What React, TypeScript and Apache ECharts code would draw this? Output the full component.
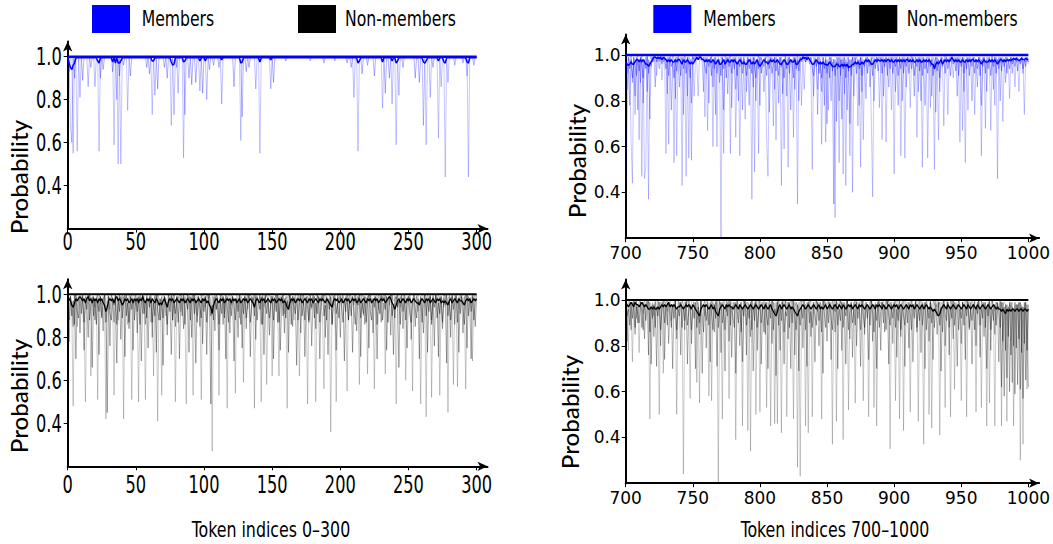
import React, { useEffect, useRef } from "react";
import * as echarts from "echarts";

// ---------- axis / tick values ----------
const X_TICKS_LEFT = [0, 50, 100, 150, 200, 250, 300];
const X_TICKS_RIGHT = [700, 750, 800, 850, 900, 950, 1000];
const Y_TICKS = [0.4, 0.6, 0.8, 1.0];
const X_START_LEFT = 0;
const X_START_RIGHT = 700;
const N_TOKENS = 301;

// ---------- Top-left: members, tokens 0-300 (sparse dips from 100%) ----------
const TL_BASE = 100;
const TL_MEAN_BASE = 99.5;
const TL_A = [[4,55],[7,56],[23,56],[34,59],[37,50],[39,50],[44,75],[62,73],[76,68],[85,53],[127,61],[141,55],[213,56],[231,76],[241,59],[263,59],[272,62],[277,44],[294,44]];
const TL_B = [[2,68],[3,60],[9,81],[15,86],[20,86],[36,80],[64,82],[78,73],[81,83],[86,73],[97,84],[102,80],[113,78],[128,72],[138,85],[149,85],[210,81],[238,78],[243,82],[261,68],[266,81],[274,86],[279,88],[293,91]];
const TL_C = [[1,93],[5,90],[11,89],[17,95],[24,90],[26,94],[33,93],[38,91],[41,96],[46,91],[58,95],[60,92],[66,85],[71,95],[73,90],[80,95],[89,90],[91,87],[94,88],[99,83],[104,94],[107,96],[111,95],[122,86],[131,93],[133,95],[151,88],[160,98],[178,98],[188,97],[196,98],[205,97],[208,95],[216,92],[220,96],[225,91],[233,83],[236,90],[246,95],[255,90],[258,88],[268,95],[284,96],[290,97],[298,96]];
const TL_MEAN = [[1,97],[2,95],[3,94],[4,96],[5,97],[22,98],[23,97],[33,97.5],[35,97],[37,97],[38,97],[39,98],[62,98],[63,98],[76,97.5],[77,96],[78,96.5],[85,97.5],[86,98],[97,98],[101,98],[113,98.5],[127,97],[128,97.5],[141,97.5],[149,98.5],[213,97],[214,98],[231,97.5],[238,98],[241,97],[242,98],[261,97.5],[262,97],[263,98],[272,98],[276,97.5],[277,97],[293,97.5],[294,97]];

// ---------- Top-right: members, tokens 700-1000 (percent per token) ----------
const TR_A = [44,69,99,98,62,44,99,74,98,100,63,99,47,98,46,51,99,37,98,100,99,97,98,91,100,97,99,89,98,100,57,99,61,100,98,97,53,99,56,100,98,97,43,99,98,47,99,55,98,54,99,82,98,97,82,99,100,98,97,73,99,67,98,97,99,60,98,97,60,99,98,20,99,57,100,98,97,99,57,98,99,97,64,98,99,56,98,97,99,72,98,99,97,98,37,99,49,98,97,57,99,98,97,98,99,63,47,99,98,97,69,99,63,98,97,99,43,98,59,99,98,51,99,97,98,64,99,97,35,99,98,78,99,85,98,97,99,98,93,50,99,98,97,85,99,98,61,99,97,62,98,76,99,97,98,98,29,99,97,53,99,98,48,97,43,99,97,56,98,40,99,98,97,69,98,51,99,63,98,97,99,98,97,72,38,99,98,97,99,77,98,63,99,97,62,98,99,97,76,99,48,99,98,97,99,56,98,99,55,97,99,98,77,99,97,98,99,64,98,97,99,51,98,97,99,55,98,77,99,97,50,99,98,63,97,99,98,69,99,98,74,99,97,98,90,99,98,97,99,62,98,67,99,53,98,76,99,97,98,99,74,98,97,99,98,56,99,97,68,99,98,97,67,99,98,78,99,46,98,97,99,71,98,97,99,98,81,99,97,98,86,99,97,84,98,99,97,74,99,98,97];
const TR_B = [99,85,96,78,100,88,97,82,99,76,98,88,100,79,97,99,84,98,72,99,97,100,86,99,98,94,99,100,97,99,98,83,99,97,76,100,98,81,99,97,86,99,98,74,100,97,82,99,98,79,100,97,99,98,100,99,98,97,84,99,97,99,79,98,100,86,99,74,98,97,88,99,98,76,97,99,83,98,100,77,98,99,85,97,80,99,98,76,99,97,84,98,78,99,97,86,99,80,98,100,78,99,97,84,98,99,100,75,97,99,98,85,99,97,79,98,99,83,97,100,82,98,99,76,97,99,85,98,100,80,99,97,100,98,97,99,98,96,99,97,82,99,97,74,99,98,84,97,78,99,70,98,99,80,97,35,98,71,99,80,98,72,99,83,98,76,99,70,97,99,82,97,99,98,78,99,84,98,97,81,99,97,86,98,99,80,97,99,98,99,97,99,82,98,99,97,86,99,98,97,99,84,97,78,99,98,80,97,99,86,97,99,98,100,97,82,99,98,84,99,80,99,97,78,98,99,97,98,82,99,98,75,99,97,84,98,99,97,100,99,98,97,99,100,98,97,99,82,97,99,98,99,84,97,99,98,97,99,80,98,99,97,86,98,99,78,98,99,97,84,99,98,97,100,85,99,98,97,99,80,98,99,97,88,99,98,97,99,92,99,98,97,99,98,97,99,92,98,97,99,96];
const TR_C = [97,92,99,94,98,90,99,95,91,98,93,99,96,90,98,94,100,92,97,95,99,98,100,97,99,98,100,96,99,98,94,98,91,99,95,97,90,98,93,99,96,91,99,94,98,92,99,96,90,98,99,98,100,99,98,100,99,98,99,95,92,98,95,99,91,97,94,99,92,98,96,91,99,94,98,90,99,95,98,92,98,94,99,91,97,95,99,92,98,96,91,99,94,98,92,99,95,90,98,94,99,92,97,95,99,91,98,94,99,92,96,99,93,98,91,99,95,97,90,98,94,99,92,98,96,90,99,94,98,93,99,98,100,99,97,100,99,98,99,94,91,98,95,99,92,97,90,99,94,98,92,97,90,99,93,98,91,97,94,99,91,98,94,99,90,97,93,98,91,99,95,99,92,98,94,99,91,97,95,99,92,98,95,99,91,98,94,99,93,97,99,92,98,95,99,91,98,94,99,92,97,95,99,91,98,94,99,92,98,95,99,92,98,94,99,91,97,95,99,93,98,91,99,94,97,92,99,95,98,91,96,99,93,98,90,99,95,98,92,99,94,98,91,99,96,98,93,99,91,98,95,99,92,98,94,99,91,98,95,99,92,98,94,99,91,98,95,99,92,98,94,99,91,98,95,99,92,98,94,99,93,98,95,99,92,98,94,99,96,98,95,99,93,98,96,99,94,98,95,99,97];
const TR_MEAN = [97,96,95.5,96,97,96,96,97,98,98,97,98,97,98,97,96,96,95,96,97,98,99,99,98.5,99,98.5,99,98,99,98.5,98,97,98,97,98,97,97,98,97,98,98,97,96,98,97,97,98,97,96,97,96,97,98,99,98,99,99,98,98,97,98,97,98,97,97,98,97,96,97,98,96,96,97,98,96,97,98,97,97,98,97,98,97,96,97,98,97,96,97,96,96,97,98,97,96,97,96,97,98,96,95,96,97,98,97,97,96,97,98,97,98,97,97,98,97,96,96,97,98,97,96,96,97,98,97,97,98,96,96,97,98,98,99,98.5,99,98,99,98,97,96,96,97,98,97,96,97,96,97,96,96,95.5,96,97,96,95,95,95,96,96,95,95,96,95,96,95,96,94.5,95,95,96,96,97,96,97,96,96,97,96,97,98,97,98,97,96,96,97,98,97,98,97.5,97.5,98,97,98,97,98,98,97,98,97,97,98,97,98,97,98,97,98,97,98,98,97,98,97,98,97,97,98,97,98,97,97,98,97,98,97,98,97,96,96,94,96,97,96,97,98,96,97,98,97,98,97,98,99,98,97,98,97,98,97,97,98,97,97,98,97,98,97,98,98,97,98,97,98,97,96,97,98,97,97,97,98,97,98,97,98,97,96,97,98,98,97,98,97,98,97.5,98,97.5,98,98.5,98,98.5,98,97.5,98,98.5,98,98,98.5,98,98];

// ---------- Bottom-left: non-members, tokens 0-300 ----------
const BL_A = [100,97,99,92,48,99,100,85,98,100,99,96,88,50,99,98,100,62,97,99,94,99,51,100,98,90,99,97,42,99,100,93,99,98,53,100,97,88,99,96,100,42,98,99,86,100,97,51,99,100,95,99,50,100,98,91,99,51,100,97,99,87,98,62,100,99,41,98,97,53,100,99,90,98,100,96,99,88,100,50,99,97,100,92,99,98,94,49,100,99,96,99,53,100,98,90,99,97,51,100,99,94,100,98,99,97,27,99,100,93,99,53,100,97,99,91,98,47,100,99,95,99,98,54,100,97,89,99,98,59,100,99,93,98,100,96,99,47,100,98,97,99,50,100,94,99,58,98,100,97,62,99,98,100,95,62,99,97,100,91,99,47,100,98,96,99,88,100,97,99,62,98,100,95,99,97,49,100,99,93,98,99,50,100,96,99,97,89,56,100,99,97,98,36,100,99,94,50,99,98,100,96,99,98,92,55,100,99,97,99,95,100,98,99,58,100,97,90,99,98,63,100,99,96,98,56,100,99,93,98,99,97,100,63,99,98,95,100,99,97,98,49,100,99,94,98,97,100,60,99,97,99,96,55,100,98,99,92,97,49,100,99,97,43,100,98,99,52,100,96,99,98,100,53,99,97,94,100,99,45,100,98,99,58,100,97,57,99,98,100,96,99,56,100,98,97,99,69,100,99,100];
const BL_B = [100,78,99,96,85,100,70,98,99,82,97,100,74,99,96,80,100,98,66,99,88,97,100,72,99,95,83,100,97,45,99,76,100,98,87,99,68,97,100,79,98,99,71,100,96,84,99,100,74,97,100,82,98,99,69,100,97,86,99,75,99,100,80,97,99,73,100,98,88,99,67,99,98,81,100,97,72,99,100,85,97,99,70,100,98,84,99,96,100,73,99,80,97,100,68,99,98,85,100,77,98,99,72,100,96,49,99,98,83,100,97,74,99,100,86,98,70,99,97,82,100,99,69,97,98,80,100,99,75,97,99,84,100,98,71,99,97,100,79,99,96,100,86,99,72,98,100,97,81,99,99,70,98,100,87,99,74,97,100,82,98,99,73,100,97,85,99,98,67,100,99,82,97,100,71,98,99,88,100,76,97,99,84,100,98,70,99,97,100,80,99,72,100,98,86,99,97,74,100,99,80,98,100,69,99,97,88,100,99,73,98,100,83,99,97,71,100,99,86,98,99,75,100,97,82,99,98,70,100,99,87,99,97,100,74,98,99,81,100,72,99,98,100,66,99,97,84,100,98,75,99,100,79,98,97,85,99,100,70,98,97,82,100,99,73,98,100,88,99,76,100,98,71,99,97,84,100,99,68,98,99,80,100,97,86,99,98,73,100,99,82,98,100,75,99,97,70,100,99,85,98];
const BL_C = [96,88,99,90,97,86,100,92,89,98,91,99,87,97,93,100,88,95,99,90,98,86,97,92,99,89,96,100,87,94,99,91,88,98,95,100,86,97,92,99,89,97,100,90,96,87,99,93,98,88,97,92,99,86,95,100,91,97,89,98,94,99,87,96,90,100,93,88,98,95,89,99,96,86,98,92,100,88,97,91,99,87,95,98,90,100,86,97,93,99,88,96,100,91,97,87,99,94,89,98,92,99,87,96,100,90,95,88,99,93,98,86,97,91,99,89,100,94,87,97,90,99,95,88,98,92,100,86,97,91,99,89,96,100,87,95,98,90,99,88,97,93,99,86,96,100,91,98,89,95,99,88,97,92,100,87,96,99,90,98,89,97,93,100,86,99,95,91,98,88,96,100,90,97,88,99,93,87,98,94,100,89,96,91,99,87,97,100,90,95,88,98,93,99,86,97,100,91,96,89,99,94,87,98,92,100,88,97,90,99,93,86,98,95,100,89,96,91,99,87,97,100,92,88,98,94,99,86,97,91,100,88,96,93,99,87,98,100,90,95,89,99,94,97,86,100,92,98,88,96,99,91,87,97,100,93,89,98,95,99,87,96,100,90,98,92,99,86,97,94,100,89,96,91,99,87,98,95,100,90,97,88,99,93,96,100,87,98,91,99,94,86,97,100,90,98,92,99,88,96,100];
const BL_MEAN = [99,98,97,95,94,96,98,97,98,99,98,97,98,96,98,99,97,98,96,98,97,98,96,98,97,98,96,95,92,94,97,98,97,98,96,98,99,97,98,97,95,96,98,97,98,96,97,98,96,98,97,98,96,98,97,99,97,96,98,97,98,96,98,97,96,98,97,95,96,95,97,98,96,94,97,98,97,98,96,97,98,97,96,98,97,98,96,97,98,97,96,98,97,98,96,97,98,97,96,98,97,98,96,97,95,94,91,95,97,98,97,96,98,97,98,96,97,98,97,98,96,98,97,98,96,97,98,96,97,98,97,98,96,97,98,97,96,94,97,98,97,96,98,97,98,96,97,98,97,96,98,97,98,96,97,98,97,98,96,97,96,94,93,96,98,97,98,96,97,98,97,98,96,97,98,97,96,98,97,98,96,97,98,97,96,98,97,98,97,96,98,97,96,95,94,97,98,97,98,96,97,98,96,97,98,97,98,96,97,98,97,98,96,97,98,96,97,98,97,96,98,97,98,96,97,98,97,98,96,97,98,97,98,96,97,98,99,98,96,95,93,95,97,98,96,97,98,97,96,98,97,98,96,97,98,97,96,96,95,97,98,97,96,98,97,98,96,97,98,97,96,98,97,98,96,97,96,97,96,95,97,98,96,97,98,97,96,98,97,97,96,95,97,98,97,98,96,97,98,97,98];

// ---------- Bottom-right: non-members, tokens 700-1000 ----------
const BR_A = [100,96,78,99,97,73,99,100,92,98,77,99,98,94,100,97,99,99,48,97,99,93,100,98,96,50,99,97,68,100,98,95,99,100,91,98,97,99,50,100,97,99,94,24,99,98,100,96,57,99,100,98,97,64,99,55,100,97,98,93,99,100,58,98,56,99,97,100,98,20,99,97,48,100,98,95,99,57,100,98,97,99,39,100,96,98,99,45,100,98,99,43,98,34,100,97,99,50,98,100,51,99,97,100,98,53,99,97,45,100,98,46,99,46,100,97,42,99,98,100,49,99,97,100,98,48,99,97,27,99,23,98,100,97,45,99,42,98,100,49,99,97,100,95,99,98,48,100,97,99,98,100,96,99,37,98,100,47,99,97,100,98,39,99,97,100,52,98,99,96,99,55,100,98,97,99,100,56,98,99,97,49,99,100,98,53,99,45,100,98,99,97,100,96,99,98,100,35,99,97,98,56,100,99,48,97,99,43,100,98,99,97,51,100,98,96,99,100,47,98,100,97,37,99,98,96,50,99,44,100,98,99,97,100,41,99,98,97,53,100,99,97,49,100,98,61,99,97,100,98,56,99,97,100,49,98,99,96,100,97,99,51,98,100,97,53,99,98,96,45,99,55,98,100,97,45,99,98,96,99,45,97,99,98,47,96,98,97,99,45,97,98,96,99,30,98,37,97,99,61,96];
const BR_B = [98,82,99,100,87,99,97,85,100,90,99,100,88,99,83,98,100,76,99,72,98,84,99,71,100,97,80,99,98,74,99,100,81,97,98,70,99,100,83,97,99,76,100,98,87,99,72,100,97,81,98,99,70,100,97,85,99,68,98,100,79,99,97,73,100,98,86,99,71,97,100,77,99,98,69,100,97,82,99,75,99,98,68,100,97,80,99,73,100,98,76,99,97,84,100,69,98,99,78,97,100,72,99,98,85,99,70,100,97,81,99,98,67,100,97,78,99,98,72,100,97,83,99,70,100,98,76,99,97,69,99,100,79,97,98,71,99,100,84,97,99,73,100,98,80,99,97,68,100,98,82,99,97,74,100,98,86,99,70,97,100,78,99,98,72,100,97,83,99,75,98,100,80,97,99,71,98,100,85,99,97,74,99,100,82,98,97,70,99,100,78,99,97,86,100,98,72,99,97,81,99,100,75,98,97,84,99,100,71,97,98,79,99,100,73,97,99,86,98,100,77,99,98,70,100,97,82,99,98,74,99,100,85,97,99,69,98,100,80,97,99,76,100,98,83,99,97,71,100,98,81,99,97,74,100,98,87,99,72,97,100,80,99,98,75,100,97,84,99,70,98,99,78,100,97,85,99,98,73,100,62,99,58,98,66,97,60,99,64,96,59,98,63,99,61,97,57,99,65,98,62];
const BR_C = [99,93,96,89,98,92,100,88,97,94,90,99,95,87,98,91,97,100,86,96,92,98,88,97,93,99,87,96,100,90,97,89,99,94,88,98,92,100,87,96,93,99,88,97,91,100,89,95,98,87,96,92,99,88,97,90,100,93,86,98,91,97,89,99,94,87,98,92,100,88,95,99,90,96,87,98,93,100,89,97,92,88,99,95,90,98,86,97,93,100,89,96,92,99,87,97,91,100,88,95,98,90,97,86,99,93,89,98,92,100,87,96,94,99,89,97,91,100,86,95,93,99,88,97,90,100,92,87,98,94,89,97,92,100,87,96,99,90,95,88,98,93,89,99,91,97,86,100,94,88,97,90,99,92,87,98,95,100,89,96,91,99,88,97,93,100,87,95,98,90,96,89,99,92,97,87,100,93,88,98,92,97,89,100,94,86,98,91,99,88,95,99,90,97,87,100,93,89,98,92,99,88,96,91,100,87,97,93,89,98,90,99,94,87,97,92,100,88,96,91,98,89,95,99,87,97,92,100,90,96,88,98,93,99,89,97,86,100,94,91,99,88,97,92,100,89,95,98,87,96,92,99,89,97,93,100,88,96,91,98,87,97,94,100,89,96,92,99,88,97,93,100,87,96,91,98,89,99,94,88,99,82,97,78,98,84,99,76,97,80,99,79,98,83,99,77,97,81,99,78,98];
const BR_MEAN = [99,98,97,98,99,98,97,99,98,98,97,98,99,98,97,98,97,96,96,97,96,97,96,96,97,96,97,98,97,98,97,98,99,97,98,97,98,97,96,97,97,98,97,96,97,98,97,98,97,96,98,97,96,95,94,93,96,97,98,97,98,97,96,97,98,96,97,95,94,93,96,97,98,97,96,98,97,98,97,97,96,97,98,97,96,98,97,96,97,98,97,96,97,98,97,96,97,98,97,96,97,98,97,96,98,97,96,97,98,96,95,94,93,95,97,98,96,97,98,97,96,97,98,96,97,96,95,94,93,95,96,97,98,97,96,97,98,97,96,97,98,97,96,97,98,96,97,96,97,98,96,97,98,97,96,97,98,97,96,98,97,96,98,97,96,97,98,97,98,96,97,98,97,96,98,97,98,97,96,97,98,97,96,97,98,97,96,98,97,98,97,96,98,97,96,97,98,97,96,97,98,97,98,96,97,98,97,96,97,98,97,96,98,97,98,96,97,98,97,96,97,98,96,97,98,97,96,97,96,95,96,95,94,93,94,96,97,98,97,96,98,97,96,97,98,97,96,97,98,97,96,97,98,97,96,98,97,96,97,98,97,96,98,97,96,97,98,97,96,97,98,97,96,97,98,97,96,97,96,96,95,96,95,94,96,95,96,95,96,96,95,96,96,95,96,96,95,96,96,95,96];

// ---------- styling ----------
const CONDENSED = "'DejaVu Sans Condensed', 'DejaVu Sans', sans-serif";
const DEJAVU = "'DejaVu Sans', sans-serif";
const BLUE = "#0000ff";

function dense(arr: number[], x0: number) {
  return arr.map((v, i) => [x0 + i, v / 100]);
}
function sparse(dips: number[][], x0: number, base: number) {
  const out: number[][] = [];
  for (let i = 0; i < N_TOKENS; i++) out.push([x0 + i, base / 100]);
  dips.forEach(([i, v]) => {
    out[i][1] = v / 100;
  });
  return out;
}

export default function App() {
  const ref = useRef<HTMLDivElement>(null);
  useEffect(() => {
    if (!ref.current) return;
    const chart = echarts.init(ref.current, undefined, { renderer: "svg" });

    const grids = [
      { left: 67.7, top: 41.6, width: 419.8, height: 187 },
      { left: 625.7, top: 34.4, width: 414, height: 203.8 },
      { left: 67.7, top: 279.3, width: 419.8, height: 187 },
      { left: 625.7, top: 279.4, width: 414, height: 203.8 },
    ];
    const isLeft = [true, false, true, false];

    const xAxis = grids.map((_, i) => {
      const left = isLeft[i];
      const ticks = left ? X_TICKS_LEFT : X_TICKS_RIGHT;
      const x0 = left ? X_START_LEFT : X_START_RIGHT;
      return {
        type: "value",
        gridIndex: i,
        min: x0,
        max: x0 + 308,
        axisLine: {
          show: true,
          symbol: ["none", "arrow"],
          symbolSize: [7, 10],
          lineStyle: { color: "#000", width: 2 },
        },
        axisTick: { show: true, customValues: ticks, length: 4, lineStyle: { color: "#000", width: 1 } },
        axisLabel: {
          show: !left,
          customValues: ticks,
          formatter: (v: number) => String(v),
          color: "#000",
          fontSize: 17,
          fontFamily: DEJAVU,
          margin: 6,
        },
        splitLine: { show: false },
      };
    });
    const yAxis = grids.map((_, i) => {
      const left = isLeft[i];
      return {
        type: "value",
        gridIndex: i,
        min: 0.2,
        max: left ? 1.07 : 1.09,
        axisLine: {
          show: true,
          symbol: ["none", "arrow"],
          symbolSize: [7, 10],
          lineStyle: { color: "#000", width: 2 },
        },
        axisTick: { show: true, customValues: Y_TICKS, length: 4, lineStyle: { color: "#000", width: 1 } },
        axisLabel: {
          show: !left,
          customValues: Y_TICKS,
          formatter: (v: number) => v.toFixed(1),
          color: "#000",
          fontSize: 17,
          fontFamily: DEJAVU,
          margin: 5,
        },
        splitLine: { show: false },
      };
    });

    const line = (
      name: string,
      idx: number,
      data: number[][],
      color: string,
      width: number,
      z: number
    ) => ({
      name,
      type: "line",
      xAxisIndex: idx,
      yAxisIndex: idx,
      data,
      showSymbol: false,
      symbol: "none",
      silent: true,
      z,
      lineStyle: { color, width },
    });

    const flat = (x0: number) => [
      [x0, 1],
      [x0 + N_TOKENS - 1, 1],
    ];

    const series = [
      line("Members", 0, sparse(TL_A, X_START_LEFT, TL_BASE), "rgba(0,0,255,0.22)", 1, 2),
      line("Members", 0, sparse(TL_B, X_START_LEFT, TL_BASE), "rgba(0,0,255,0.25)", 1, 2),
      line("Members", 0, sparse(TL_C, X_START_LEFT, TL_BASE), "rgba(0,0,255,0.3)", 1, 2),
      line("Members", 0, sparse(TL_MEAN, X_START_LEFT, TL_MEAN_BASE), BLUE, 1.5, 3),
      line("Members", 0, flat(X_START_LEFT), BLUE, 2.5, 4),
      line("Members", 1, dense(TR_A, X_START_RIGHT), "rgba(0,0,255,0.22)", 1, 2),
      line("Members", 1, dense(TR_B, X_START_RIGHT), "rgba(0,0,255,0.27)", 1, 2),
      line("Members", 1, dense(TR_C, X_START_RIGHT), "rgba(0,0,255,0.35)", 1, 2),
      line("Members", 1, dense(TR_MEAN, X_START_RIGHT), BLUE, 1.5, 3),
      line("Members", 1, flat(X_START_RIGHT), BLUE, 2.5, 4),
      line("Non-members", 2, dense(BL_A, X_START_LEFT), "rgba(0,0,0,0.2)", 1, 2),
      line("Non-members", 2, dense(BL_B, X_START_LEFT), "rgba(0,0,0,0.32)", 1, 2),
      line("Non-members", 2, dense(BL_C, X_START_LEFT), "rgba(0,0,0,0.38)", 1, 2),
      line("Non-members", 2, dense(BL_MEAN, X_START_LEFT), "#000", 1.3, 3),
      line("Non-members", 2, flat(X_START_LEFT), "#000", 2, 4),
      line("Non-members", 3, dense(BR_A, X_START_RIGHT), "rgba(0,0,0,0.2)", 1, 2),
      line("Non-members", 3, dense(BR_B, X_START_RIGHT), "rgba(0,0,0,0.3)", 1, 2),
      line("Non-members", 3, dense(BR_C, X_START_RIGHT), "rgba(0,0,0,0.35)", 1, 2),
      line("Non-members", 3, dense(BR_MEAN, X_START_RIGHT), "#000", 1.3, 3),
      line("Non-members", 3, flat(X_START_RIGHT), "#000", 2, 4),
    ];

    chart.setOption({
      animation: false,
      backgroundColor: "#fff",
      grid: grids.map((g) => ({ ...g, containLabel: false })),
      xAxis,
      yAxis,
      series,
    });

    // ---------- texts ----------
    const narrowText = (
      x: number,
      y: number,
      text: string,
      size: number,
      sx: number,
      align: string,
      vAlign: string
    ) => ({
      type: "text",
      x,
      y,
      scaleX: sx,
      silent: true,
      style: { text, fontSize: size, fontFamily: CONDENSED, fill: "#000", align, verticalAlign: vAlign },
    });

    const tickTexts: any[] = [];
    [0, 2].forEach((gi, k) => {
      const yOff = k === 0 ? 1 : 6;
      X_TICKS_LEFT.forEach((v) => {
        const p = chart.convertToPixel({ xAxisIndex: gi, yAxisIndex: gi }, [v, 0.2]) as number[];
        tickTexts.push(narrowText(p[0], p[1] + yOff, String(v), 24, 0.75, "center", "top"));
      });
      Y_TICKS.forEach((v) => {
        const p = chart.convertToPixel({ xAxisIndex: gi, yAxisIndex: gi }, [X_START_LEFT, v]) as number[];
        tickTexts.push(narrowText(p[0] - 6, p[1], v.toFixed(1), 24, 0.75, "right", "middle"));
      });
    });

    const probLabel = (x: number, y: number) => ({
      type: "text",
      x,
      y,
      rotation: Math.PI / 2,
      scaleX: 1.05,
      silent: true,
      style: {
        text: "Probability",
        fontSize: 23,
        fontFamily: "Lato, 'Open Sans', sans-serif",
        fontWeight: 500,
        fill: "#000",
        align: "center",
        verticalAlign: "middle",
      },
    });
    const legendItem = (rx: number, color: string, tx: number, text: string) => [
      { type: "rect", silent: true, shape: { x: rx, y: 5, width: 38, height: 28 }, style: { fill: color } },
      narrowText(tx, 19, text, 22, 0.79, "left", "middle"),
    ];

    chart.setOption({
      graphic: [
        ...legendItem(92, BLUE, 141.7, "Members"),
        ...legendItem(298, "#000", 345, "Non-members"),
        ...legendItem(653.3, BLUE, 703.3, "Members"),
        ...legendItem(859.3, "#000", 906.7, "Non-members"),
        probLabel(19, 177),
        probLabel(577, 161),
        probLabel(19, 396),
        probLabel(570, 412),
        narrowText(271, 530, "Token indices 0–300", 22, 0.8, "center", "middle"),
        narrowText(835, 530, "Token indices 700–1000", 22, 0.8, "center", "middle"),
        ...tickTexts,
      ],
    });
    return () => chart.dispose();
  }, []);

  return <div ref={ref} style={{ width: 1053, height: 544, position: "absolute", left: 0, top: 0 }} />;
}
